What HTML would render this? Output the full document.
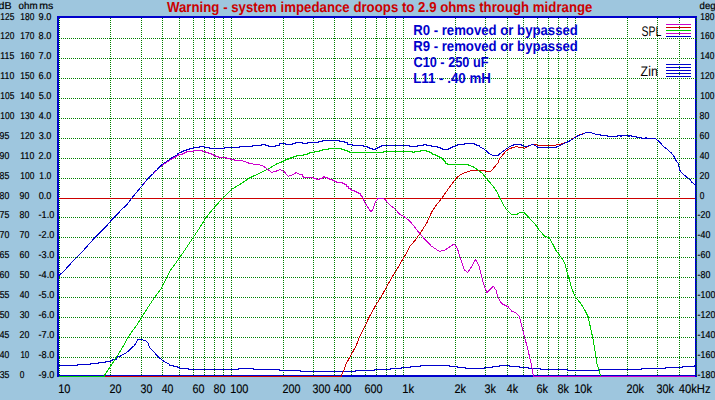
<!DOCTYPE html>
<html><head><meta charset="utf-8"><style>
html,body{margin:0;padding:0;background:#9ec6de;overflow:hidden;}
svg{display:block;}
text{font-family:"Liberation Sans",sans-serif;text-rendering:geometricPrecision;}
</style></head><body>
<svg width="715" height="400" viewBox="0 0 715 400">
<defs><clipPath id="clip"><rect x="59" y="18" width="636" height="359"/></clipPath></defs>
<rect x="0" y="0" width="715" height="400" fill="#9ec6de"/>
<rect x="57" y="16" width="640" height="361" fill="#0000cc"/>
<rect x="59" y="18" width="636" height="357" fill="#fff"/>
<path d="M110.5 18V375 M141.5 18V375 M162.5 18V375 M179.5 18V375 M193.5 18V375 M204.5 18V375 M214.5 18V375 M223.5 18V375 M283.5 18V375 M313.5 18V375 M334.5 18V375 M351.5 18V375 M365.5 18V375 M376.5 18V375 M386.5 18V375 M395.5 18V375 M455.5 18V375 M485.5 18V375 M507.5 18V375 M523.5 18V375 M537.5 18V375 M548.5 18V375 M558.5 18V375 M567.5 18V375 M231.5 18V375 M403.5 18V375 M575.5 18V375 M627.5 18V375 M657.5 18V375 M679.5 18V375 M59.5 18V375 M696.5 18V375 M59 38.5H696 M59 58.5H696 M59 78.5H696 M59 98.5H696 M59 118.5H696 M59 138.5H696 M59 158.5H696 M59 178.5H696 M59 217.5H696 M59 237.5H696 M59 257.5H696 M59 277.5H696 M59 297.5H696 M59 317.5H696 M59 337.5H696 M59 357.5H696" stroke="#008000" stroke-width="1" stroke-dasharray="1 1" fill="none" shape-rendering="crispEdges"/>
<path d="M59 198.5H695" stroke="#cc0000" stroke-width="1" shape-rendering="crispEdges"/>
<path d="M666 24.5H691" stroke="#cc00cc" stroke-width="1" shape-rendering="crispEdges"/>
<path d="M666 27.5H691" stroke="#cc0000" stroke-width="1" shape-rendering="crispEdges"/>
<path d="M666 30.5H691" stroke="#00cc00" stroke-width="1" shape-rendering="crispEdges"/>
<path d="M666 33.5H691" stroke="#cc00cc" stroke-width="1" shape-rendering="crispEdges"/>
<path d="M666 36.5H691" stroke="#0000cc" stroke-width="1" shape-rendering="crispEdges"/>
<path d="M666 64.5H691" stroke="#0000cc" stroke-width="1" shape-rendering="crispEdges"/>
<path d="M666 67.5H691" stroke="#0000cc" stroke-width="1" shape-rendering="crispEdges"/>
<path d="M666 70.5H691" stroke="#0000cc" stroke-width="1" shape-rendering="crispEdges"/>
<path d="M666 73.5H691" stroke="#0000cc" stroke-width="1" shape-rendering="crispEdges"/>
<path d="M666 76.5H691" stroke="#0000cc" stroke-width="1" shape-rendering="crispEdges"/>
<g clip-path="url(#clip)">
<polyline points="59.0,365.5 77.0,365.5 77.0,364.5 90.0,364.5 90.0,363.5 98.0,363.5 98.0,362.5 105.0,362.5 105.0,361.5 110.0,361.5 110.0,360.5 112.0,360.5 112.0,359.5 116.0,359.5 116.6,357.3 120.4,356.1 122.8,354.7 125.6,353.3 128.5,350.9 131.0,348.4 134.5,345.5 136.2,342.6 137.9,339.8 141.4,339.2 146.0,341.1 148.3,343.2 149.4,347.2 152.9,350.7 156.3,354.7 159.8,358.2 164.4,361.6 169.0,364.2 170.0,365.5 170.0,365.5 173.0,365.5 173.0,366.5 177.0,366.5 177.0,367.5 179.0,367.5 179.0,368.5 188.0,368.5 188.0,369.5 238.0,369.5 238.0,368.5 253.0,368.5 253.0,369.5 279.0,369.5 279.0,370.5 300.0,370.5 300.0,371.5 355.0,371.5 355.0,370.5 374.0,370.5 374.0,369.5 390.0,369.5 390.0,368.5 401.0,368.5 401.0,367.5 410.0,367.5 410.0,366.5 420.0,366.5 420.0,365.5 449.0,365.5 449.0,366.5 457.0,366.5 457.0,367.5 465.0,367.5 465.0,368.5 484.0,368.5 484.0,367.5 492.0,367.5 492.0,366.5 499.0,366.5 499.0,365.5 509.0,365.5 509.0,366.5 519.0,366.5 519.0,367.5 528.0,367.5 528.0,368.5 540.0,368.5 540.0,369.5 567.0,369.5 567.0,370.5 598.0,370.5 598.0,369.5 641.0,369.5 641.0,368.5 665.0,368.5 665.0,367.5 682.0,367.5 682.0,366.5 694.0,366.5 694.0,365.5 696.0,365.5" fill="none" stroke="#0000cc" stroke-width="1" shape-rendering="crispEdges" />
<polyline points="50.0,376.5 341.2,376.5 341.2,375.6 343.7,370.6 346.2,363.9 348.4,359.7 350.8,355.5 356.4,345.1 359.8,336.1 364.3,327.1 369.9,315.8 375.5,305.7 381.2,296.7 386.8,286.5 392.4,276.4 398.1,267.4 402.6,259.5 405.3,255.0 410.1,246.2 415.8,239.4 421.4,231.5 427.0,222.5 431.5,212.4 436.0,205.6 441.5,198.5 444.0,195.0 447.5,190.0 450.0,186.5 453.0,182.5 456.0,178.5 460.5,174.5 464.0,173.0 468.0,171.5 472.0,170.5 485.5,170.5 486.0,171.5 490.5,171.5 492.0,170.0 494.5,167.0 498.0,163.0 499.4,159.0 502.3,155.6 505.3,151.7 508.7,149.2 512.1,147.7 516.0,146.8 519.0,147.2 521.9,147.7 524.8,148.2 526.8,147.2 528.8,146.0 531.7,144.5 534.6,144.5 538.9,145.4 543.8,145.4 544.8,145.1 556.1,145.1 557.5,144.4 560.5,144.1 563.4,143.2 567.3,142.0 572.2,139.3 575.2,137.1 578.1,135.4 581.0,134.4 584.0,133.5 585.9,132.2" fill="none" stroke="#cc0000" stroke-width="1" shape-rendering="crispEdges" />
<polyline points="50.0,376.5 104.0,376.5 104.3,375.6 107.1,371.3 110.0,367.1 112.8,362.8 115.2,359.0 117.1,356.1 119.5,352.3 121.8,348.5 124.2,344.3 126.1,340.5 129.3,335.3 136.0,326.3 141.7,317.3 147.3,308.3 154.1,298.1 160.8,289.1 170.5,270.3 179.5,257.9 186.3,247.8 193.1,237.7 199.8,227.5 205.5,218.5 207.9,215.1 213.6,208.3 222.6,198.2 231.6,189.2 240.6,184.0 249.6,177.9 256.8,174.5 263.5,171.2 270.3,167.8 277.0,163.7 280.0,162.5 281.0,162.5 281.0,161.5 283.0,161.5 283.0,160.5 285.0,160.5 285.0,159.5 288.0,159.5 288.0,158.5 290.0,158.5 290.0,157.5 293.0,157.5 293.0,156.5 296.0,156.5 296.0,155.5 303.0,155.5 303.0,154.5 307.0,154.5 307.0,153.5 309.0,153.5 309.0,152.5 314.0,152.5 314.0,151.5 319.0,151.5 319.0,150.5 322.0,150.5 322.0,149.5 328.0,149.5 328.0,148.5 341.0,148.5 341.0,149.5 344.0,149.5 344.0,150.5 347.0,150.5 347.0,151.5 349.0,151.5 349.0,152.5 383.0,152.5 383.0,151.5 412.0,151.5 412.0,152.5 414.0,152.5 414.0,151.5 420.0,151.5 420.0,150.5 426.0,150.5 426.0,151.5 429.0,151.5 429.0,152.5 431.0,152.5 431.0,153.5 432.0,153.5 432.0,154.5 435.0,154.5 435.0,155.5 437.0,155.5 437.0,156.5 439.0,156.5 439.0,157.5 441.0,157.5 441.0,158.5 442.0,158.5 442.0,159.5 443.0,159.5 443.0,160.5 444.0,160.5 444.0,161.5 445.0,161.5 445.0,163.5 447.0,163.5 447.0,164.5 456.0,164.5 456.0,164.5 467.0,164.5 470.0,165.5 474.0,167.2 476.5,169.0 480.0,171.5 483.0,174.0 486.0,178.0 489.0,181.5 493.0,186.0 497.0,192.0 499.5,197.5 501.8,201.8 506.3,209.6 511.9,214.8 516.4,214.8 520.9,211.9 524.3,212.6 528.8,217.5 534.4,223.2 538.9,229.9 544.5,236.0 549.1,237.8 552.4,243.4 555.8,250.2 559.2,254.7 562.6,259.2 565.3,264.8 567.1,272.7 569.5,280.0 571.7,288.6 575.8,297.6 580.7,303.3 584.4,309.4 588.1,316.8 590.5,327.8 593.0,338.8 595.4,353.5 597.2,364.7 598.9,369.7 600.2,374.8 600.5,376.5 700.0,376.5" fill="none" stroke="#00cc00" stroke-width="1" shape-rendering="crispEdges" />
<polyline points="59.0,275.3 62.4,272.6 64.6,270.3 70.3,264.0 75.9,257.9 81.5,252.7 87.2,246.2 92.8,239.9 98.4,234.3 105.2,227.5 110.8,220.8 116.4,215.1 122.1,209.1 126.6,205.0 131.5,198.6 136.0,192.9 141.7,186.2 147.6,179.2 152.8,174.4 158.8,168.0 164.0,164.2 168.0,161.6 172.0,158.8 176.0,156.8 179.0,154.5 180.0,154.5 182.0,154.5 182.0,153.5 184.0,153.5 184.0,152.5 186.0,152.5 186.0,151.5 193.0,151.5 193.0,150.5 202.0,150.5 202.0,151.5 205.0,151.5 205.0,152.5 208.0,152.5 208.0,153.5 211.0,153.5 211.0,154.5 213.0,154.5 213.0,155.5 215.0,155.5 215.0,156.5 218.0,156.5 218.0,157.5 226.0,157.5 226.0,158.5 230.0,158.5 230.0,159.5 234.0,159.5 234.0,160.5 241.0,160.5 245.1,161.5 250.0,163.7 256.8,164.4 262.4,165.5 266.9,168.9 271.4,172.3 274.8,171.6 280.4,169.6 283.8,171.2 288.3,176.4 291.7,175.0 296.2,172.7 300.0,174.5 302.0,174.5 302.0,176.5 303.0,176.5 303.0,177.5 313.0,177.5 313.0,178.5 316.0,178.5 316.0,179.5 319.0,179.5 319.0,178.5 322.0,178.5 322.0,177.5 323.0,177.5 323.0,176.5 324.0,176.5 324.0,177.5 327.0,177.5 327.0,178.5 329.0,178.5 329.0,179.5 332.0,179.5 332.0,180.5 334.0,180.5 334.0,181.5 336.0,181.5 336.0,182.5 342.0,182.5 342.0,183.5 344.0,183.5 344.0,184.5 346.0,184.5 346.0,186.5 348.0,186.5 348.0,188.5 350.0,188.5 350.0,189.5 351.0,189.5 351.0,190.5 354.0,190.5 354.0,191.5 356.0,191.5 356.0,192.5 358.0,192.5 358.0,193.5 360.0,193.5 360.3,194.8 361.8,196.3 362.9,197.8 363.6,199.3 364.4,201.5 365.5,203.8 367.0,206.0 368.5,208.3 370.0,210.5 371.1,211.4 372.3,210.5 373.4,208.3 374.1,206.0 374.9,203.0 375.6,201.5 376.8,200.0 377.9,198.5 383.5,198.5 385.0,199.6 386.5,201.1 388.8,203.8 391.0,206.0 393.3,207.5 395.0,209.0 400.0,214.6 404.5,216.9 410.1,221.4 414.6,227.0 419.1,232.7 424.8,239.4 431.5,246.2 439.4,251.4 445.0,250.0 450.7,246.2 454.1,243.9 457.4,248.4 460.8,259.7 464.2,269.8 467.6,272.5 470.9,267.6 475.5,259.7 478.8,265.3 482.2,278.8 484.8,287.9 487.0,292.4 490.4,289.0 493.3,286.3 496.0,290.1 498.3,298.0 501.7,303.6 505.0,305.2 508.4,307.0 511.8,311.1 516.3,313.3 519.0,316.0 520.8,321.7 523.1,331.8 525.3,339.7 527.6,348.7 529.8,357.7 531.8,366.4 533.1,374.8 533.5,376.5 700.0,376.5" fill="none" stroke="#cc00cc" stroke-width="1" shape-rendering="crispEdges" />
<polyline points="59.0,275.3 62.4,272.6 64.6,270.3 70.3,264.0 75.9,257.9 81.5,252.7 87.2,246.2 92.8,239.9 98.4,234.3 105.2,227.5 110.8,220.8 116.4,215.1 122.1,209.1 126.6,205.0 131.5,198.6 136.0,192.9 141.7,186.2 147.6,178.8 150.0,176.4 152.8,174.0 154.8,171.2 156.8,170.0 158.8,167.6 160.8,165.6 163.2,163.6 165.2,162.4 168.0,160.6 170.0,159.2 172.0,157.6 174.4,156.4 176.4,155.6 178.0,153.6 180.0,152.5 181.0,152.5 181.0,151.5 183.0,151.5 183.0,150.5 186.0,150.5 186.0,149.5 189.0,149.5 189.0,148.5 193.0,148.5 193.0,147.5 199.0,147.5 199.0,146.5 204.0,146.5 204.0,147.5 209.0,147.5 209.0,148.5 224.0,148.5 224.0,147.5 239.0,147.5 239.0,146.5 240.0,146.5 240.0,146.5 252.0,146.5 252.0,145.5 261.0,145.5 261.0,144.5 265.0,144.5 265.0,145.5 268.0,145.5 268.0,146.5 275.0,146.5 275.0,145.5 279.0,145.5 279.0,143.5 285.0,143.5 285.0,144.5 292.0,144.5 292.0,143.5 295.0,143.5 295.0,142.5 302.0,142.5 302.0,143.5 307.0,143.5 307.0,142.5 318.0,142.5 318.0,141.5 322.0,141.5 322.0,140.5 339.0,140.5 339.0,141.5 344.0,141.5 344.0,142.5 347.0,142.5 347.0,144.5 352.0,144.5 352.0,145.5 363.0,145.5 363.0,146.5 367.0,146.5 367.0,147.5 369.0,147.5 369.0,148.5 372.0,148.5 372.0,149.5 375.0,149.5 375.0,148.5 377.0,148.5 377.0,147.5 379.0,147.5 379.0,146.5 381.0,146.5 381.0,145.5 409.0,145.5 409.0,146.5 417.0,146.5 417.0,145.5 423.0,145.5 423.0,144.5 426.0,144.5 426.0,145.5 431.0,145.5 431.0,146.5 437.0,146.5 437.0,147.5 440.0,147.5 440.0,148.5 442.0,148.5 442.0,149.5 448.0,149.5 448.0,148.5 450.0,148.5 450.0,147.5 452.0,147.5 452.0,146.5 455.0,146.5 455.0,145.5 457.0,145.5 457.0,144.5 464.0,144.5 464.0,143.5 474.0,143.5 474.0,144.5 476.0,144.5 476.0,145.5 479.0,145.5 479.8,146.8 484.7,149.5 488.6,153.1 492.5,155.4 497.9,155.4 501.3,152.6 505.3,149.7 509.2,147.0 513.1,145.1 516.0,144.5 520.4,144.5 523.4,145.8 526.8,146.6 529.7,145.3 532.7,144.8 535.0,145.1 537.9,147.4 541.9,147.6 555.1,147.6 558.5,146.1 562.4,144.1 567.3,142.2 572.2,139.5 575.2,137.3 578.1,135.6 581.0,134.6 584.0,133.7 585.9,132.4 588.4,132.1 591.3,132.4 593.8,133.9 600.0,134.5 601.0,135.5 607.9,135.5 608.0,136.5 617.9,136.5 618.0,135.5 620.9,135.5 621.0,136.5 621.9,136.5 622.0,135.5 628.9,135.5 629.0,136.5 629.9,136.5 630.0,135.5 631.9,135.5 632.0,136.5 636.9,136.5 637.0,137.5 641.9,137.5 642.0,138.5 645.9,138.5 646.0,137.5 646.9,137.5 647.0,138.5 655.7,138.8 657.8,140.5 661.2,143.9 664.6,147.4 668.1,149.9 671.5,153.2 673.6,155.6 675.6,159.8 678.4,163.9 679.5,170.1 682.5,173.5 686.6,177.0 690.1,179.7 692.1,182.5 694.9,184.5 695.5,184.5" fill="none" stroke="#0000cc" stroke-width="1" shape-rendering="crispEdges" />
</g>
<g font-family="Liberation Sans, sans-serif">
<text x="167.00" y="12" font-size="14.5" fill="#cc0000" font-weight="bold" textLength="425.45" lengthAdjust="spacingAndGlyphs">Warning - system impedance droops to 2.9 ohms through midrange</text>
<text x="413.14" y="35" font-size="14.5" fill="#0000cc" font-weight="bold" textLength="164.74" lengthAdjust="spacingAndGlyphs">R0 - removed or bypassed</text>
<text x="413.14" y="51" font-size="14.5" fill="#0000cc" font-weight="bold" textLength="164.74" lengthAdjust="spacingAndGlyphs">R9 - removed or bypassed</text>
<text x="413.47" y="67" font-size="14.5" fill="#0000cc" font-weight="bold" textLength="74.98" lengthAdjust="spacingAndGlyphs">C10 - 250 uF</text>
<text x="413.13" y="83" font-size="14.5" fill="#0000cc" font-weight="bold" textLength="77.77" lengthAdjust="spacingAndGlyphs">L11 - .40 mH</text>
<text x="641.51" y="36" font-size="14" fill="#000" font-weight="normal" textLength="19.79" lengthAdjust="spacingAndGlyphs">SPL</text>
<text x="640.60" y="76" font-size="14" fill="#000" font-weight="normal" textLength="17.19" lengthAdjust="spacingAndGlyphs">Zin</text>
<text x="-1.42" y="9" font-size="10" fill="#000" font-weight="normal" textLength="12.99" lengthAdjust="spacingAndGlyphs" stroke="#000" stroke-width="0.2">dB</text>
<text x="18.61" y="9" font-size="10" fill="#000" font-weight="normal" textLength="19.03" lengthAdjust="spacingAndGlyphs" stroke="#000" stroke-width="0.2">ohm</text>
<text x="39.32" y="9" font-size="10" fill="#000" font-weight="normal" textLength="14.03" lengthAdjust="spacingAndGlyphs" stroke="#000" stroke-width="0.2">ms</text>
<text x="699.62" y="9" font-size="10" fill="#000" font-weight="normal" textLength="16.04" lengthAdjust="spacingAndGlyphs" stroke="#000" stroke-width="0.2">deg</text>
<text x="0.37" y="20" font-size="10" fill="#000" font-weight="normal" textLength="13.99" lengthAdjust="spacingAndGlyphs" stroke="#000" stroke-width="0.2">125</text>
<text x="20.37" y="20" font-size="10" fill="#000" font-weight="normal" textLength="13.95" lengthAdjust="spacingAndGlyphs" stroke="#000" stroke-width="0.2">180</text>
<text x="38.59" y="20" font-size="10" fill="#000" font-weight="normal" textLength="12.73" lengthAdjust="spacingAndGlyphs" stroke="#000" stroke-width="0.2">9.0</text>
<text x="700.37" y="20" font-size="10" fill="#000" font-weight="normal" textLength="13.95" lengthAdjust="spacingAndGlyphs" stroke="#000" stroke-width="0.2">180</text>
<text x="0.37" y="39" font-size="10" fill="#000" font-weight="normal" textLength="13.95" lengthAdjust="spacingAndGlyphs" stroke="#000" stroke-width="0.2">120</text>
<text x="20.37" y="39" font-size="10" fill="#000" font-weight="normal" textLength="13.95" lengthAdjust="spacingAndGlyphs" stroke="#000" stroke-width="0.2">170</text>
<text x="38.59" y="39" font-size="10" fill="#000" font-weight="normal" textLength="12.73" lengthAdjust="spacingAndGlyphs" stroke="#000" stroke-width="0.2">8.0</text>
<text x="700.37" y="39" font-size="10" fill="#000" font-weight="normal" textLength="13.95" lengthAdjust="spacingAndGlyphs" stroke="#000" stroke-width="0.2">160</text>
<text x="0.34" y="59" font-size="10" fill="#000" font-weight="normal" textLength="14.00" lengthAdjust="spacingAndGlyphs" stroke="#000" stroke-width="0.2">115</text>
<text x="20.37" y="59" font-size="10" fill="#000" font-weight="normal" textLength="13.95" lengthAdjust="spacingAndGlyphs" stroke="#000" stroke-width="0.2">160</text>
<text x="38.54" y="59" font-size="10" fill="#000" font-weight="normal" textLength="12.78" lengthAdjust="spacingAndGlyphs" stroke="#000" stroke-width="0.2">7.0</text>
<text x="700.37" y="59" font-size="10" fill="#000" font-weight="normal" textLength="13.95" lengthAdjust="spacingAndGlyphs" stroke="#000" stroke-width="0.2">140</text>
<text x="0.34" y="79" font-size="10" fill="#000" font-weight="normal" textLength="13.96" lengthAdjust="spacingAndGlyphs" stroke="#000" stroke-width="0.2">110</text>
<text x="20.37" y="79" font-size="10" fill="#000" font-weight="normal" textLength="13.95" lengthAdjust="spacingAndGlyphs" stroke="#000" stroke-width="0.2">150</text>
<text x="38.54" y="79" font-size="10" fill="#000" font-weight="normal" textLength="12.78" lengthAdjust="spacingAndGlyphs" stroke="#000" stroke-width="0.2">6.0</text>
<text x="700.37" y="79" font-size="10" fill="#000" font-weight="normal" textLength="13.95" lengthAdjust="spacingAndGlyphs" stroke="#000" stroke-width="0.2">120</text>
<text x="0.37" y="99" font-size="10" fill="#000" font-weight="normal" textLength="13.99" lengthAdjust="spacingAndGlyphs" stroke="#000" stroke-width="0.2">105</text>
<text x="20.37" y="99" font-size="10" fill="#000" font-weight="normal" textLength="13.95" lengthAdjust="spacingAndGlyphs" stroke="#000" stroke-width="0.2">140</text>
<text x="38.63" y="99" font-size="10" fill="#000" font-weight="normal" textLength="12.69" lengthAdjust="spacingAndGlyphs" stroke="#000" stroke-width="0.2">5.0</text>
<text x="700.37" y="99" font-size="10" fill="#000" font-weight="normal" textLength="13.95" lengthAdjust="spacingAndGlyphs" stroke="#000" stroke-width="0.2">100</text>
<text x="0.37" y="119" font-size="10" fill="#000" font-weight="normal" textLength="13.95" lengthAdjust="spacingAndGlyphs" stroke="#000" stroke-width="0.2">100</text>
<text x="20.37" y="119" font-size="10" fill="#000" font-weight="normal" textLength="13.95" lengthAdjust="spacingAndGlyphs" stroke="#000" stroke-width="0.2">130</text>
<text x="38.82" y="119" font-size="10" fill="#000" font-weight="normal" textLength="12.50" lengthAdjust="spacingAndGlyphs" stroke="#000" stroke-width="0.2">4.0</text>
<text x="699.61" y="119" font-size="10" fill="#000" font-weight="normal" textLength="9.72" lengthAdjust="spacingAndGlyphs" stroke="#000" stroke-width="0.2">80</text>
<text x="-0.40" y="139" font-size="10" fill="#000" font-weight="normal" textLength="9.77" lengthAdjust="spacingAndGlyphs" stroke="#000" stroke-width="0.2">95</text>
<text x="20.37" y="139" font-size="10" fill="#000" font-weight="normal" textLength="13.95" lengthAdjust="spacingAndGlyphs" stroke="#000" stroke-width="0.2">120</text>
<text x="38.63" y="139" font-size="10" fill="#000" font-weight="normal" textLength="12.69" lengthAdjust="spacingAndGlyphs" stroke="#000" stroke-width="0.2">3.0</text>
<text x="699.56" y="139" font-size="10" fill="#000" font-weight="normal" textLength="9.77" lengthAdjust="spacingAndGlyphs" stroke="#000" stroke-width="0.2">60</text>
<text x="-0.39" y="159" font-size="10" fill="#000" font-weight="normal" textLength="9.72" lengthAdjust="spacingAndGlyphs" stroke="#000" stroke-width="0.2">90</text>
<text x="20.34" y="159" font-size="10" fill="#000" font-weight="normal" textLength="13.96" lengthAdjust="spacingAndGlyphs" stroke="#000" stroke-width="0.2">110</text>
<text x="38.54" y="159" font-size="10" fill="#000" font-weight="normal" textLength="12.78" lengthAdjust="spacingAndGlyphs" stroke="#000" stroke-width="0.2">2.0</text>
<text x="699.83" y="159" font-size="10" fill="#000" font-weight="normal" textLength="9.49" lengthAdjust="spacingAndGlyphs" stroke="#000" stroke-width="0.2">40</text>
<text x="-0.40" y="179" font-size="10" fill="#000" font-weight="normal" textLength="9.77" lengthAdjust="spacingAndGlyphs" stroke="#000" stroke-width="0.2">85</text>
<text x="20.37" y="179" font-size="10" fill="#000" font-weight="normal" textLength="13.95" lengthAdjust="spacingAndGlyphs" stroke="#000" stroke-width="0.2">100</text>
<text x="39.36" y="179" font-size="10" fill="#000" font-weight="normal" textLength="11.95" lengthAdjust="spacingAndGlyphs" stroke="#000" stroke-width="0.2">1.0</text>
<text x="699.56" y="179" font-size="10" fill="#000" font-weight="normal" textLength="9.77" lengthAdjust="spacingAndGlyphs" stroke="#000" stroke-width="0.2">20</text>
<text x="-0.39" y="199" font-size="10" fill="#000" font-weight="normal" textLength="9.72" lengthAdjust="spacingAndGlyphs" stroke="#000" stroke-width="0.2">80</text>
<text x="19.61" y="199" font-size="10" fill="#000" font-weight="normal" textLength="9.72" lengthAdjust="spacingAndGlyphs" stroke="#000" stroke-width="0.2">90</text>
<text x="38.63" y="199" font-size="10" fill="#000" font-weight="normal" textLength="12.69" lengthAdjust="spacingAndGlyphs" stroke="#000" stroke-width="0.2">0.0</text>
<text x="699.67" y="199" font-size="10" fill="#000" font-weight="normal" textLength="4.63" lengthAdjust="spacingAndGlyphs" stroke="#000" stroke-width="0.2">0</text>
<text x="-0.44" y="218" font-size="10" fill="#000" font-weight="normal" textLength="9.81" lengthAdjust="spacingAndGlyphs" stroke="#000" stroke-width="0.2">75</text>
<text x="19.61" y="218" font-size="10" fill="#000" font-weight="normal" textLength="9.72" lengthAdjust="spacingAndGlyphs" stroke="#000" stroke-width="0.2">80</text>
<text x="38.59" y="218" font-size="10" fill="#000" font-weight="normal" textLength="15.76" lengthAdjust="spacingAndGlyphs" stroke="#000" stroke-width="0.2">-1.0</text>
<text x="697.60" y="218" font-size="10" fill="#000" font-weight="normal" textLength="12.71" lengthAdjust="spacingAndGlyphs" stroke="#000" stroke-width="0.2">-20</text>
<text x="-0.44" y="238" font-size="10" fill="#000" font-weight="normal" textLength="9.77" lengthAdjust="spacingAndGlyphs" stroke="#000" stroke-width="0.2">70</text>
<text x="19.56" y="238" font-size="10" fill="#000" font-weight="normal" textLength="9.77" lengthAdjust="spacingAndGlyphs" stroke="#000" stroke-width="0.2">70</text>
<text x="38.59" y="238" font-size="10" fill="#000" font-weight="normal" textLength="15.76" lengthAdjust="spacingAndGlyphs" stroke="#000" stroke-width="0.2">-2.0</text>
<text x="697.60" y="238" font-size="10" fill="#000" font-weight="normal" textLength="12.71" lengthAdjust="spacingAndGlyphs" stroke="#000" stroke-width="0.2">-40</text>
<text x="-0.44" y="258" font-size="10" fill="#000" font-weight="normal" textLength="9.81" lengthAdjust="spacingAndGlyphs" stroke="#000" stroke-width="0.2">65</text>
<text x="19.56" y="258" font-size="10" fill="#000" font-weight="normal" textLength="9.77" lengthAdjust="spacingAndGlyphs" stroke="#000" stroke-width="0.2">60</text>
<text x="38.59" y="258" font-size="10" fill="#000" font-weight="normal" textLength="15.76" lengthAdjust="spacingAndGlyphs" stroke="#000" stroke-width="0.2">-3.0</text>
<text x="697.60" y="258" font-size="10" fill="#000" font-weight="normal" textLength="12.71" lengthAdjust="spacingAndGlyphs" stroke="#000" stroke-width="0.2">-60</text>
<text x="-0.44" y="278" font-size="10" fill="#000" font-weight="normal" textLength="9.77" lengthAdjust="spacingAndGlyphs" stroke="#000" stroke-width="0.2">60</text>
<text x="19.65" y="278" font-size="10" fill="#000" font-weight="normal" textLength="9.67" lengthAdjust="spacingAndGlyphs" stroke="#000" stroke-width="0.2">50</text>
<text x="38.59" y="278" font-size="10" fill="#000" font-weight="normal" textLength="15.76" lengthAdjust="spacingAndGlyphs" stroke="#000" stroke-width="0.2">-4.0</text>
<text x="697.60" y="278" font-size="10" fill="#000" font-weight="normal" textLength="12.71" lengthAdjust="spacingAndGlyphs" stroke="#000" stroke-width="0.2">-80</text>
<text x="-0.35" y="298" font-size="10" fill="#000" font-weight="normal" textLength="9.72" lengthAdjust="spacingAndGlyphs" stroke="#000" stroke-width="0.2">55</text>
<text x="19.83" y="298" font-size="10" fill="#000" font-weight="normal" textLength="9.49" lengthAdjust="spacingAndGlyphs" stroke="#000" stroke-width="0.2">40</text>
<text x="38.59" y="298" font-size="10" fill="#000" font-weight="normal" textLength="15.76" lengthAdjust="spacingAndGlyphs" stroke="#000" stroke-width="0.2">-5.0</text>
<text x="697.60" y="298" font-size="10" fill="#000" font-weight="normal" textLength="17.72" lengthAdjust="spacingAndGlyphs" stroke="#000" stroke-width="0.2">-100</text>
<text x="-0.35" y="318" font-size="10" fill="#000" font-weight="normal" textLength="9.67" lengthAdjust="spacingAndGlyphs" stroke="#000" stroke-width="0.2">50</text>
<text x="19.65" y="318" font-size="10" fill="#000" font-weight="normal" textLength="9.67" lengthAdjust="spacingAndGlyphs" stroke="#000" stroke-width="0.2">30</text>
<text x="38.59" y="318" font-size="10" fill="#000" font-weight="normal" textLength="15.76" lengthAdjust="spacingAndGlyphs" stroke="#000" stroke-width="0.2">-6.0</text>
<text x="697.60" y="318" font-size="10" fill="#000" font-weight="normal" textLength="17.72" lengthAdjust="spacingAndGlyphs" stroke="#000" stroke-width="0.2">-120</text>
<text x="-0.17" y="338" font-size="10" fill="#000" font-weight="normal" textLength="9.53" lengthAdjust="spacingAndGlyphs" stroke="#000" stroke-width="0.2">45</text>
<text x="19.56" y="338" font-size="10" fill="#000" font-weight="normal" textLength="9.77" lengthAdjust="spacingAndGlyphs" stroke="#000" stroke-width="0.2">20</text>
<text x="38.59" y="338" font-size="10" fill="#000" font-weight="normal" textLength="15.76" lengthAdjust="spacingAndGlyphs" stroke="#000" stroke-width="0.2">-7.0</text>
<text x="697.60" y="338" font-size="10" fill="#000" font-weight="normal" textLength="17.72" lengthAdjust="spacingAndGlyphs" stroke="#000" stroke-width="0.2">-140</text>
<text x="-0.17" y="358" font-size="10" fill="#000" font-weight="normal" textLength="9.49" lengthAdjust="spacingAndGlyphs" stroke="#000" stroke-width="0.2">40</text>
<text x="20.40" y="358" font-size="10" fill="#000" font-weight="normal" textLength="8.90" lengthAdjust="spacingAndGlyphs" stroke="#000" stroke-width="0.2">10</text>
<text x="38.59" y="358" font-size="10" fill="#000" font-weight="normal" textLength="15.76" lengthAdjust="spacingAndGlyphs" stroke="#000" stroke-width="0.2">-8.0</text>
<text x="697.60" y="358" font-size="10" fill="#000" font-weight="normal" textLength="17.72" lengthAdjust="spacingAndGlyphs" stroke="#000" stroke-width="0.2">-160</text>
<text x="-0.35" y="378" font-size="10" fill="#000" font-weight="normal" textLength="9.72" lengthAdjust="spacingAndGlyphs" stroke="#000" stroke-width="0.2">35</text>
<text x="19.67" y="378" font-size="10" fill="#000" font-weight="normal" textLength="4.63" lengthAdjust="spacingAndGlyphs" stroke="#000" stroke-width="0.2">0</text>
<text x="38.59" y="378" font-size="10" fill="#000" font-weight="normal" textLength="15.76" lengthAdjust="spacingAndGlyphs" stroke="#000" stroke-width="0.2">-9.0</text>
<text x="697.60" y="378" font-size="10" fill="#000" font-weight="normal" textLength="17.72" lengthAdjust="spacingAndGlyphs" stroke="#000" stroke-width="0.2">-180</text>
<text x="58.16" y="393" font-size="12.5" fill="#000" font-weight="normal" textLength="12.28" lengthAdjust="spacingAndGlyphs" stroke="#000" stroke-width="0.15">10</text>
<text x="109.48" y="393" font-size="12.5" fill="#000" font-weight="normal" textLength="11.95" lengthAdjust="spacingAndGlyphs" stroke="#000" stroke-width="0.15">20</text>
<text x="140.57" y="393" font-size="12.5" fill="#000" font-weight="normal" textLength="11.86" lengthAdjust="spacingAndGlyphs" stroke="#000" stroke-width="0.15">30</text>
<text x="161.75" y="393" font-size="12.5" fill="#000" font-weight="normal" textLength="11.67" lengthAdjust="spacingAndGlyphs" stroke="#000" stroke-width="0.15">40</text>
<text x="192.44" y="393" font-size="12.5" fill="#000" font-weight="normal" textLength="11.99" lengthAdjust="spacingAndGlyphs" stroke="#000" stroke-width="0.15">60</text>
<text x="213.53" y="393" font-size="12.5" fill="#000" font-weight="normal" textLength="11.90" lengthAdjust="spacingAndGlyphs" stroke="#000" stroke-width="0.15">80</text>
<text x="230.17" y="393" font-size="12.5" fill="#000" font-weight="normal" textLength="18.27" lengthAdjust="spacingAndGlyphs" stroke="#000" stroke-width="0.15">100</text>
<text x="282.48" y="393" font-size="12.5" fill="#000" font-weight="normal" textLength="17.95" lengthAdjust="spacingAndGlyphs" stroke="#000" stroke-width="0.15">200</text>
<text x="312.57" y="393" font-size="12.5" fill="#000" font-weight="normal" textLength="17.86" lengthAdjust="spacingAndGlyphs" stroke="#000" stroke-width="0.15">300</text>
<text x="333.75" y="393" font-size="12.5" fill="#000" font-weight="normal" textLength="17.68" lengthAdjust="spacingAndGlyphs" stroke="#000" stroke-width="0.15">400</text>
<text x="364.44" y="393" font-size="12.5" fill="#000" font-weight="normal" textLength="18.00" lengthAdjust="spacingAndGlyphs" stroke="#000" stroke-width="0.15">600</text>
<text x="402.15" y="393" font-size="12.5" fill="#000" font-weight="normal" textLength="11.85" lengthAdjust="spacingAndGlyphs" stroke="#000" stroke-width="0.15">1k</text>
<text x="454.48" y="393" font-size="12.5" fill="#000" font-weight="normal" textLength="11.53" lengthAdjust="spacingAndGlyphs" stroke="#000" stroke-width="0.15">2k</text>
<text x="484.57" y="393" font-size="12.5" fill="#000" font-weight="normal" textLength="11.43" lengthAdjust="spacingAndGlyphs" stroke="#000" stroke-width="0.15">3k</text>
<text x="506.74" y="393" font-size="12.5" fill="#000" font-weight="normal" textLength="11.26" lengthAdjust="spacingAndGlyphs" stroke="#000" stroke-width="0.15">4k</text>
<text x="536.43" y="393" font-size="12.5" fill="#000" font-weight="normal" textLength="11.57" lengthAdjust="spacingAndGlyphs" stroke="#000" stroke-width="0.15">6k</text>
<text x="557.52" y="393" font-size="12.5" fill="#000" font-weight="normal" textLength="11.48" lengthAdjust="spacingAndGlyphs" stroke="#000" stroke-width="0.15">8k</text>
<text x="574.16" y="393" font-size="12.5" fill="#000" font-weight="normal" textLength="17.84" lengthAdjust="spacingAndGlyphs" stroke="#000" stroke-width="0.15">10k</text>
<text x="626.48" y="393" font-size="12.5" fill="#000" font-weight="normal" textLength="17.52" lengthAdjust="spacingAndGlyphs" stroke="#000" stroke-width="0.15">20k</text>
<text x="656.57" y="393" font-size="12.5" fill="#000" font-weight="normal" textLength="17.44" lengthAdjust="spacingAndGlyphs" stroke="#000" stroke-width="0.15">30k</text>
<text x="678.73" y="393" font-size="12.5" fill="#000" font-weight="normal" textLength="31.79" lengthAdjust="spacingAndGlyphs" stroke="#000" stroke-width="0.15">40kHz</text>
</g>
</svg>
</body></html>
